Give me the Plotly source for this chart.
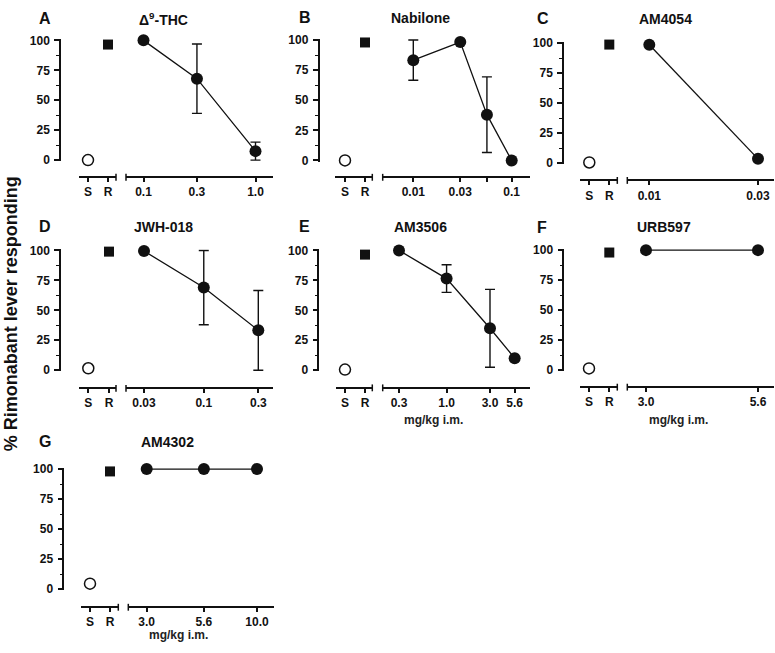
import math
import plotly.graph_objects as go

W, H = 775, 653
FONT = "Liberation Sans, Arial, sans-serif"
INK = "#111111"

# ---------------- data ----------------
letters = ["A", "B", "C", "D", "E", "F", "G"]
titles = ["Δ<sup>9</sup>-THC", "Nabilone", "AM4054", "JWH-018", "AM3506", "URB597", "AM4302"]

saline_resp = [0, 0, 0.5, 1.6, 0.5, 1.5, 4.5]
rimonabant_resp = [96.5, 98, 98.7, 99, 96.5, 98, 98]

thc_dose = [0.1, 0.3, 1.0]
thc_resp = [100, 68, 7.5]
thc_sem = [0, 29, 7.5]

nab_dose = [0.01, 0.03, 0.056, 0.1]
nab_resp = [83.3, 98.3, 38, 0]
nab_sem = [16.7, 0, 31.4, 0]

am4054_dose = [0.01, 0.03]
am4054_resp = [98.5, 3.5]
am4054_sem = [0, 0]

jwh_dose = [0.03, 0.1, 0.3]
jwh_resp = [99.5, 69, 33.3]
jwh_sem = [0, 31, 33.3]

am3506_dose = [0.3, 1.0, 3.0, 5.6]
am3506_resp = [100, 76.5, 35, 10]
am3506_sem = [0, 11.5, 32.5, 0]

urb_dose = [3.0, 5.6]
urb_resp = [100, 100]
urb_sem = [0, 0]

am4302_dose = [3.0, 5.6, 10.0]
am4302_resp = [100, 100, 100]
am4302_sem = [0, 0, 0]

doses = [thc_dose, nab_dose, am4054_dose, jwh_dose, am3506_dose, urb_dose, am4302_dose]
resps = [thc_resp, nab_resp, am4054_resp, jwh_resp, am3506_resp, urb_resp, am4302_resp]
sems = [thc_sem, nab_sem, am4054_sem, jwh_sem, am3506_sem, urb_sem, am4302_sem]

tick_vals = [[0.1, 0.3, 1.0], [0.01, 0.03, 0.1], [0.01, 0.03], [0.03, 0.1, 0.3],
             [0.3, 1.0, 3.0, 5.6], [3.0, 5.6], [3.0, 5.6, 10.0]]
tick_text = [["0.1", "0.3", "1.0"], ["0.01", "0.03", "0.1"], ["0.01", "0.03"], ["0.03", "0.1", "0.3"],
             ["0.3", "1.0", "3.0", "5.6"], ["3.0", "5.6"], ["3.0", "5.6", "10.0"]]
unlabeled_ticks = [[], [0.056], [], [], [], [], []]
sr_labels = ["S", "R"]
y_ticks = [0, 25, 50, 75, 100]
y_minor = [12.5, 37.5, 62.5, 87.5]
unit_label = "mg/kg i.m."
unit_panels = [4, 5, 6]

# ---------------- layout geometry (pixels) ----------------
# yx, y100, y0, xline, a0, a1, s, r, d0, d1, (dose1, px1), (dose2, px2)
geo = [
    (60.0, 35.0, 157.0, 174.5, 79.0, 116.0, 88.0, 108.0, 126.0, 272.7, (0.1, 143.5), (1.0, 255.5)),
    (318.5, 34.7, 157.3, 174.5, 335.0, 372.3, 345.0, 365.0, 382.7, 530.0, (0.01, 413.3), (0.1, 511.7)),
    (563.0, 37.7, 160.0, 177.7, 580.0, 617.3, 589.3, 609.3, 627.3, 774.0, (0.01, 649.3), (0.03, 758.0)),
    (60.0, 249.0, 371.0, 389.5, 79.3, 116.0, 88.3, 109.0, 126.0, 272.7, (0.03, 144.0), (0.3, 258.3)),
    (318.3, 249.0, 371.0, 389.0, 335.7, 372.3, 345.0, 365.0, 382.7, 530.0, (0.3, 399.0), (3.0, 490.0)),
    (563.3, 248.7, 371.0, 388.3, 580.0, 617.3, 589.0, 609.3, 627.3, 774.0, (3.0, 646.0), (5.6, 758.0)),
    (63.3, 471.7, 594.0, 612.5, 81.0, 118.3, 90.0, 110.0, 128.3, 274.3, (3.0, 146.7), (10.0, 257.0)),
]
letter_pos = [(45, 13), (305, 12), (543, 13), (45, 225), (304, 225), (542, 226), (45, 444)]
title_pos = [(163, 13), (420, 12), (665, 13), (163, 225), (420, 225), (664, 225), (167, 444)]
unit_pos = [(433, 422), (678, 422), (178, 641)]


def px(x):
    return x / W


def py(y):
    return 1 - y / H


fig = go.Figure()
layout = dict(
    width=W, height=H, autosize=False, margin=dict(l=0, r=0, t=0, b=0, pad=0),
    paper_bgcolor="white", plot_bgcolor="white", showlegend=False,
)
shapes = []
annotations = []

tickfont = dict(family=FONT, size=12, color=INK, weight="bold")
YR = (-1, 101)

for i in range(7):
    yx, y100, y0, xl, a0, a1, s, r, d0, d1, t1, t2 = geo[i]
    yid = i + 1
    xa = 2 * i + 1
    xb = 2 * i + 2
    ysuf = "" if yid == 1 else str(yid)
    xas = "" if xa == 1 else str(xa)
    xbs = str(xb)

    # y axis
    scale = (y0 - y100) / 100.0
    dom_bot = y0 - YR[0] * scale
    dom_top = y100 - (YR[1] - 100) * scale
    layout["yaxis" + ysuf] = dict(
        domain=[py(dom_bot), py(dom_top)], range=list(YR), anchor="free", position=px(yx),
        showline=True, linecolor=INK, linewidth=1.5, showgrid=False, zeroline=False,
        tickvals=y_ticks, ticks="outside", ticklen=5, tickwidth=1.5, tickcolor=INK,
        tickfont=tickfont, ticklabelstandoff=2,
        minor=dict(tickvals=y_minor, ticks="outside", ticklen=3, tickwidth=1.2, tickcolor=INK),
    )

    # S/R axis
    unit = r - s
    layout["xaxis" + xas] = dict(
        domain=[px(a0), px(a1)], range=[-(s - a0) / unit, 1 + (a1 - r) / unit],
        anchor="free", position=py(xl),
        showline=True, linecolor=INK, linewidth=1.5, showgrid=False, zeroline=False,
        tickvals=[0, 1], ticktext=sr_labels, ticks="outside", ticklen=4, tickwidth=1.5,
        tickcolor=INK, tickfont=tickfont, ticklabelstandoff=0,
    )

    # dose axis (log)
    (dd1, p1), (dd2, p2) = t1, t2
    k = (p2 - p1) / (math.log10(dd2) - math.log10(dd1))
    lo = math.log10(dd1) - (p1 - d0) / k
    hi = math.log10(dd1) + (d1 - p1) / k
    xb_cfg = dict(
        type="log", domain=[px(d0), px(d1)], range=[lo, hi],
        anchor="free", position=py(xl),
        showline=True, linecolor=INK, linewidth=1.5, showgrid=False, zeroline=False,
        tickvals=tick_vals[i], ticktext=tick_text[i], ticks="outside", ticklen=4, tickwidth=1.5,
        tickcolor=INK, tickfont=tickfont, ticklabelstandoff=0,
    )
    if unlabeled_ticks[i]:
        xb_cfg["minor"] = dict(tickvals=unlabeled_ticks[i], ticks="outside", ticklen=4,
                               tickwidth=1.5, tickcolor=INK)
    layout["xaxis" + xbs] = xb_cfg

    # end caps of the broken x axis
    for cx in (a1, d0):
        shapes.append(dict(type="line", xref="paper", yref="paper",
                           x0=px(cx), x1=px(cx), y0=py(xl - 3.5), y1=py(xl + 3.5),
                           line=dict(color=INK, width=1.5)))

    yref = "y" + ysuf
    # saline
    fig.add_trace(go.Scatter(
        x=[0], y=[saline_resp[i]], xaxis="x" + xas, yaxis=yref, mode="markers",
        marker=dict(symbol="circle-open", size=11, color=INK, line=dict(width=1.5, color=INK)),
        cliponaxis=False, hoverinfo="skip"))
    # rimonabant
    fig.add_trace(go.Scatter(
        x=[1], y=[rimonabant_resp[i]], xaxis="x" + xas, yaxis=yref, mode="markers",
        marker=dict(symbol="square", size=10, color=INK),
        cliponaxis=False, hoverinfo="skip"))
    # dose effect
    fig.add_trace(go.Scatter(
        x=doses[i], y=resps[i], xaxis="x" + xbs, yaxis=yref, mode="lines+markers",
        line=dict(color=INK, width=1.3),
        marker=dict(symbol="circle", size=12, color=INK),
        error_y=dict(type="data", array=sems[i], visible=True, color=INK, thickness=1.4, width=5),
        cliponaxis=False, hoverinfo="skip"))

    annotations.append(dict(text="<b>" + letters[i] + "</b>", x=px(letter_pos[i][0]), y=py(letter_pos[i][1]),
                            xref="paper", yref="paper", showarrow=False, xanchor="center", yanchor="middle",
                            font=dict(family=FONT, size=16, color=INK)))
    annotations.append(dict(text="<b>" + titles[i] + "</b>", x=px(title_pos[i][0]), y=py(title_pos[i][1]),
                            xref="paper", yref="paper", showarrow=False, xanchor="center", yanchor="middle",
                            font=dict(family=FONT, size=14, color=INK)))

for j, pi in enumerate(unit_panels):
    annotations.append(dict(text="<b>" + unit_label + "</b>", x=px(unit_pos[j][0]), y=py(unit_pos[j][1]),
                            xref="paper", yref="paper", showarrow=False, xanchor="center", yanchor="middle",
                            font=dict(family=FONT, size=12, color="#222222")))

annotations.append(dict(text="<b>% Rimonabant lever responding</b>", x=px(11), y=py(314),
                        xref="paper", yref="paper", showarrow=False, textangle=-90,
                        xanchor="center", yanchor="middle",
                        font=dict(family=FONT, size=18, color=INK)))

layout["shapes"] = shapes
layout["annotations"] = annotations
fig.update_layout(**layout)

post = ("document.documentElement.style.margin='0';document.documentElement.style.overflow='hidden';"
        "document.body.style.margin='0';document.body.style.padding='0';"
        "var d=document.getElementById('{plot_id}');"
        "d.style.position='absolute';d.style.left='0px';d.style.top='0px';")
fig.write_html("out.html", post_script=post, config={"displayModeBar": False})
